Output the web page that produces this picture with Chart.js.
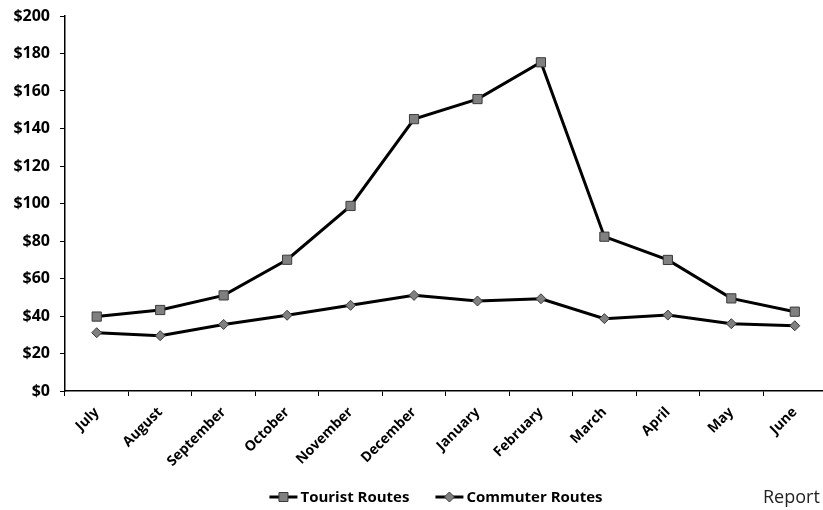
<!DOCTYPE html>
<html>
<head>
<meta charset="utf-8">
<script src="https://cdn.jsdelivr.net/npm/chart.js@4"></script>
<style>
  html, body { margin: 0; padding: 0; background: #fff; overflow: hidden; }
  #wrap { position: relative; width: 823px; height: 510px; overflow: hidden; }
  #chart { position: absolute; left: 0; top: 0; }
  #report { position: absolute; left: 763px; top: 484px; font: 18px 'Century Gothic', 'Open Sans', sans-serif; color: #222; white-space: nowrap; }
</style>
</head>
<body>
<div id="wrap">
  <canvas id="chart" width="834" height="510"></canvas>
  <div id="report">Report</div>
</div>
<script>
// Monthly figures, fiscal year July–June
const months = ['July', 'August', 'September', 'October', 'November', 'December',
                'January', 'February', 'March', 'April', 'May', 'June'];
const touristRoutes  = [39.7, 43.2, 51, 70, 98.7, 145, 155.7, 175.3, 82.3, 69.9, 49.4, 42.3];
const commuterRoutes = [31.1, 29.5, 35.5, 40.4, 45.7, 51, 48, 49.2, 38.6, 40.5, 35.9, 34.8];
const seriesNames = ['Tourist Routes', 'Commuter Routes'];
const yTicks = [0, 20, 40, 60, 80, 100, 120, 140, 160, 180, 200];

const FONT = "'Century Gothic', 'Open Sans', sans-serif";
const MARKER_FILL = '#808080';
const MARKER_EDGE = '#3a3a3a';

// Legend drawn under the axis: line with marker, then bold label
const bottomLegend = {
  id: 'bottomLegend',
  afterDraw(chart) {
    const ctx = chart.ctx;
    const y = 497;
    const symW = 28, gapText = 3, gapItem = 26;
    ctx.save();
    ctx.font = 'bold 15px ' + FONT;
    const widths = chart.data.datasets.map(d => symW + gapText + ctx.measureText(d.label).width);
    const total = widths.reduce((a, b) => a + b, 0) + gapItem * (widths.length - 1);
    let x = 436 - total / 2;
    chart.data.datasets.forEach((ds, i) => {
      ctx.strokeStyle = '#000';
      ctx.lineWidth = 3;
      ctx.beginPath();
      ctx.moveTo(x, y);
      ctx.lineTo(x + symW, y);
      ctx.stroke();
      const cx = x + symW / 2;
      ctx.fillStyle = MARKER_FILL;
      ctx.strokeStyle = MARKER_EDGE;
      ctx.lineWidth = 1;
      ctx.beginPath();
      if (ds.pointStyle === 'rect') {
        ctx.rect(cx - 4.5, y - 4.5, 9, 9);
      } else {
        ctx.moveTo(cx - 5, y); ctx.lineTo(cx, y - 5); ctx.lineTo(cx + 5, y); ctx.lineTo(cx, y + 5); ctx.closePath();
      }
      ctx.fill();
      ctx.stroke();
      ctx.fillStyle = '#000';
      ctx.textAlign = 'left';
      ctx.textBaseline = 'middle';
      ctx.fillText(ds.label, x + symW + gapText, y + 1);
      x += widths[i] + gapItem;
    });
    ctx.restore();
  }
};

new Chart(document.getElementById('chart'), {
  type: 'line',
  data: {
    labels: months,
    datasets: [
      {
        label: seriesNames[0],
        data: touristRoutes,
        borderColor: '#000',
        borderWidth: 3,
        pointStyle: 'rect',
        pointRadius: 6.5,
        pointBackgroundColor: MARKER_FILL,
        pointBorderColor: MARKER_EDGE,
        pointBorderWidth: 1,
        tension: 0
      },
      {
        label: seriesNames[1],
        data: commuterRoutes,
        borderColor: '#000',
        borderWidth: 3,
        pointStyle: 'rectRot',
        pointRadius: 5,
        pointBackgroundColor: MARKER_FILL,
        pointBorderColor: MARKER_EDGE,
        pointBorderWidth: 1,
        tension: 0
      }
    ]
  },
  options: {
    responsive: false,
    animation: false,
    layout: { padding: { top: 16, left: 0, right: 0, bottom: 0 } },
    plugins: {
      legend: { display: false },
      tooltip: { enabled: false },
      title: { display: false }
    },
    scales: {
      x: {
        offset: true,
        grid: { display: true, drawOnChartArea: false, offset: true, drawTicks: true, tickLength: 5, color: '#000', lineWidth: 1 },
        border: { display: true, color: '#000', width: 1.5 },
        ticks: {
          color: '#000',
          font: { family: FONT, size: 14, weight: 'bold' },
          maxRotation: 45,
          minRotation: 45,
          autoSkip: false,
          padding: 8
        },
        afterFit(scale) { scale.height = 119; }
      },
      y: {
        min: 0,
        max: 200,
        afterBuildTicks(scale) { scale.ticks = yTicks.map(v => ({ value: v })); },
        grid: { display: true, drawOnChartArea: false, drawTicks: true, tickLength: 5, color: '#000', lineWidth: 1 },
        border: { display: true, color: '#000', width: 1.5 },
        ticks: {
          color: '#000',
          font: { family: FONT, size: 16, weight: 'bold' },
          padding: 10,
          callback: v => '$' + v
        },
        afterFit(scale) {
          scale.width = 65;
          scale.paddingTop = 0;
          scale.paddingBottom = 0;
        }
      }
    }
  },
  plugins: [bottomLegend]
});
</script>
</body>
</html>
